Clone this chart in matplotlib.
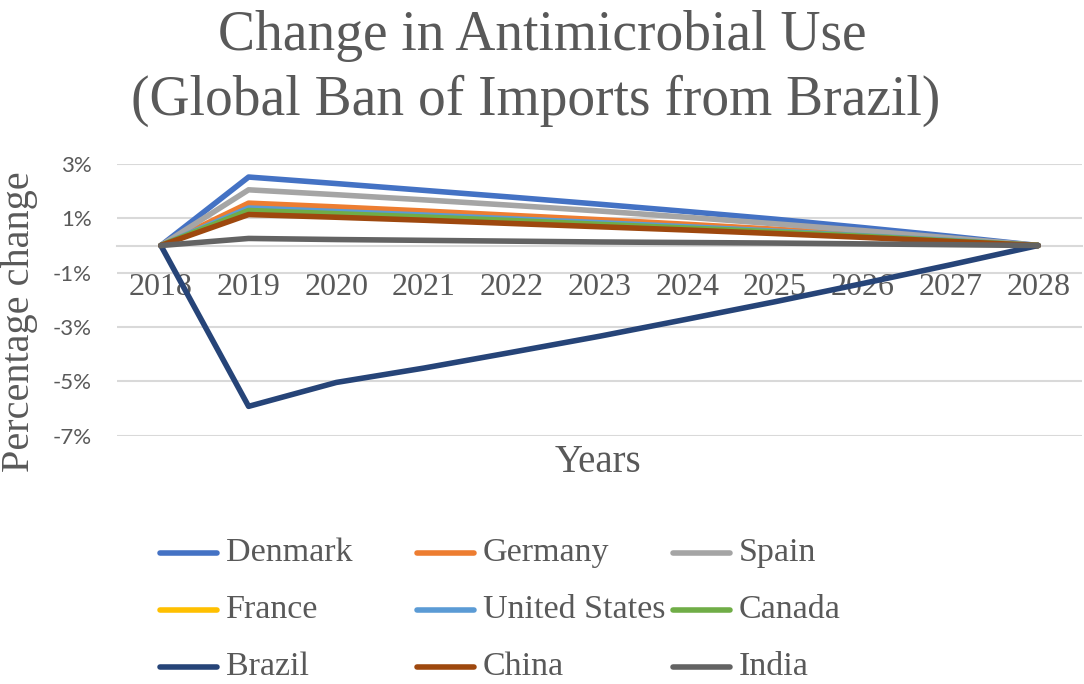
import matplotlib
matplotlib.use("Agg")
import matplotlib.pyplot as plt
from matplotlib.lines import Line2D

# percentage change per year
years = ["2018", "2019", "2020", "2021", "2022", "2023", "2024", "2025", "2026", "2027", "2028"]

denmark = [0, 2.52, 2.28, 2.03, 1.78, 1.52, 1.25, 0.97, 0.66, 0.34, 0]
germany = [0, 1.56, 1.42, 1.27, 1.11, 0.95, 0.78, 0.60, 0.41, 0.21, 0]
spain = [0, 2.05, 1.87, 1.68, 1.48, 1.27, 1.04, 0.80, 0.55, 0.28, 0]
france = [0, 1.33, 1.21, 1.08, 0.95, 0.81, 0.66, 0.51, 0.35, 0.18, 0]
united_states = [0, 1.38, 1.25, 1.12, 0.98, 0.84, 0.69, 0.53, 0.36, 0.19, 0]
canada = [0, 1.29, 1.17, 1.05, 0.92, 0.78, 0.64, 0.50, 0.34, 0.17, 0]
brazil = [0, -5.92, -5.04, -4.51, -3.93, -3.34, -2.71, -2.07, -1.40, -0.71, 0]
china = [0, 1.14, 1.04, 0.93, 0.81, 0.69, 0.57, 0.44, 0.30, 0.15, 0]
india = [0, 0.26, 0.22, 0.19, 0.16, 0.13, 0.11, 0.09, 0.06, 0.03, 0]

names = ["Denmark", "Germany", "Spain", "France", "United States", "Canada",
         "Brazil", "China", "India"]
series = [denmark, germany, spain, france, united_states, canada, brazil, china, india]
colors = ["#4472C4", "#ED7D31", "#A5A5A5", "#FFC000", "#5B9BD5", "#70AD47",
          "#264478", "#9E480E", "#636363"]

yticks = [-7, -5, -3, -1, 1, 3]

TXT = "#595959"
GRID = "#D9D9D9"
SERIF = "Liberation Serif"
W, H = 1084, 684

fig = plt.figure(figsize=(W / 100, H / 100), dpi=100)
ax = fig.add_axes([117 / W, 1 - 435.7 / H, (1082 - 117) / W, (435.7 - 164) / H])

# category axis crosses at 0 (set before tick labels, this resets ticks)
for side in ["top", "right", "left"]:
    ax.spines[side].set_visible(False)
ax.spines["bottom"].set_position(("data", 0))
ax.spines["bottom"].set_color(GRID)
ax.spines["bottom"].set_linewidth(1.5)
ax.spines["bottom"].set_zorder(0.5)

x = list(range(len(years)))
for name, vals, col in zip(names, series, colors):
    ax.plot(x, vals, color=col, lw=4.0, solid_joinstyle="round",
            solid_capstyle="round", label=name)

ax.set_xlim(-0.5, len(years) - 0.5)
ax.set_ylim(-7, 3)
ax.set_yticks(yticks)
ax.set_yticklabels([f"{v}%" for v in yticks], family="Lato", fontsize=16, color=TXT)
ax.set_xticks(x)
ax.set_xticklabels(years, family=SERIF, fontsize=23, color=TXT)
ax.tick_params(axis="both", length=0)
ax.tick_params(axis="y", pad=18)
ax.tick_params(axis="x", pad=20)
ax.grid(axis="y", color=GRID, lw=1.5)
ax.set_axisbelow(True)

# titles
fig.text(542 / W, 1 - 36 / H, "Change in Antimicrobial Use", family=SERIF,
         fontsize=40, color=TXT, ha="center", va="center")
fig.text(536 / W, 1 - 101 / H, "(Global Ban of Imports from Brazil)", family=SERIF,
         fontsize=40, color=TXT, ha="center", va="center")
fig.text(20 / W, 1 - 322 / H, "Percentage change", family=SERIF, fontsize=29,
         color=TXT, ha="center", va="center", rotation=90)
fig.text(598 / W, 1 - 463 / H, "Years", family=SERIF, fontsize=28, color=TXT,
         ha="center", va="center")

# legend laid out like Excel: 3 equal columns
col_x = [157, 414, 670]
row_y = [553, 610, 667]
for i, (name, col) in enumerate(zip(names, colors)):
    cx = col_x[i % 3]
    cy = row_y[i // 3]
    fig.add_artist(Line2D([(cx + 3) / W, (cx + 60) / W], [1 - cy / H, 1 - cy / H],
                          transform=fig.transFigure, color=col, lw=4.0,
                          solid_capstyle="round"))
    fig.text((cx + 69) / W, 1 - cy / H, name, family=SERIF, fontsize=24.5,
             color=TXT, ha="left", va="center")

fig.savefig("out.png", dpi=100)
